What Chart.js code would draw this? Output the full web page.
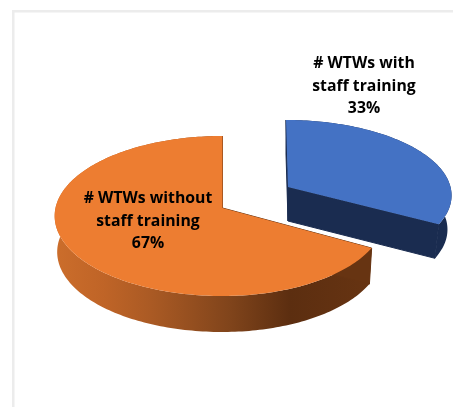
<!DOCTYPE html>
<html>
<head>
<meta charset="utf-8">
<style>html,body{margin:0;padding:0;background:#fff}canvas{display:block}</style>
<script src="https://cdn.jsdelivr.net/npm/chart.js@4"></script>
</head>
<body>
<canvas id="c" width="453" height="407"></canvas>
<script>
const categories = ["# WTWs with staff training", "# WTWs without staff training"];
const values = [33, 67];
const colors = ["#4472c4", "#ed7d31"];
const labelLines = [["# WTWs with", "staff training"], ["# WTWs without", "staff training"]];

// tilted-pie view of each slice (perspective, exploded offset, depth)
const view = [
  {ax: 288, ay: 187, A: 73.7, BL: 162.5, BR: 162.5, k: -0.1, s: 2.2, depth: 34, shrink: 0.975, label: [364, 68]},
  {ax: 222.5, ay: 208, A: 79.2, BL: 167, BR: 162, k: -0.1, s: 0, depth: 36, shrink: 0.985, label: [148, 203]}
];
const wallFill = [
  [[0, "#1a2c50"], [1, "#1a2c50"]],
  [[0, "#cb6d2b"], [0.15, "#bf6427"], [0.3, "#aa5a24"], [0.55, "#80441b"], [0.74, "#5c2e10"], [1, "#673412"]]
];

function project(v, theta, rim, lower) {
  const u = Math.sin(theta) * rim, w = -Math.cos(theta) * rim;
  const d = 1 + v.k * w, sh = lower ? v.shrink : 1, B = u > 0 ? v.BR : v.BL;
  return [v.ax + (B * sh * u + v.s * w) / d, v.ay + (lower ? v.depth : 0) + v.A * w / d];
}
function rimPath(ctx, v, a, b, lower, first) {
  const n = Math.max(2, Math.ceil(Math.abs(b - a) / 0.02));
  for (let i = 0; i <= n; i++) {
    const p = project(v, a + (b - a) * i / n, 1, lower);
    (first && i === 0) ? ctx.moveTo(p[0], p[1]) : ctx.lineTo(p[0], p[1]);
  }
}
Chart.ArcElement.prototype.draw = function (ctx) {
  const idx = this.$context.dataIndex, v = view[idx];
  const a = this.startAngle + Math.PI / 2, b = this.endAngle + Math.PI / 2;
  const stops = wallFill[idx];
  const g = ctx.createLinearGradient(57, 0, 372, 0);
  stops.forEach(s => g.addColorStop(s[0], s[1]));
  ctx.save();
  ctx.fillStyle = idx === 0 ? stops[0][1] : g;
  ctx.beginPath();
  rimPath(ctx, v, a, b, false, true);
  rimPath(ctx, v, b, a, true, false);
  ctx.closePath();
  ctx.fill();
  // cut faces
  ctx.strokeStyle = ctx.fillStyle = idx === 0 ? stops[0][1] : stops[stops.length - 1][1];
  ctx.lineWidth = 1;
  [a, b].forEach(t => {
    const top = project(v, t, 1, false), low = project(v, t, 1, true), c = project(v, t, 0, false), cl = project(v, t, 0, true);
    ctx.beginPath();
    ctx.moveTo(c[0], c[1]); ctx.lineTo(top[0], top[1]); ctx.lineTo(low[0], low[1]); ctx.lineTo(cl[0], cl[1]);
    ctx.closePath();
    ctx.fill(); ctx.stroke();
  });
  // top face
  const c = project(v, 0, 0, false);
  ctx.fillStyle = this.options.backgroundColor;
  ctx.beginPath();
  ctx.moveTo(c[0], c[1]);
  rimPath(ctx, v, a, b, false, false);
  ctx.closePath();
  ctx.fill();
  ctx.restore();
};

const frame = {
  id: "frame",
  beforeDraw(chart) {
    const ctx = chart.ctx;
    ctx.save();
    ctx.fillStyle = "#ececec";
    ctx.fillRect(12, 10, chart.width - 12, 2.5);
    ctx.fillRect(12, 10, 2.5, chart.height - 10);
    ctx.restore();
  }
};
const sliceLabels = {
  id: "sliceLabels",
  afterDraw(chart) {
    const ctx = chart.ctx;
    const total = values.reduce((x, y) => x + y, 0);
    ctx.save();
    ctx.fillStyle = "#000";
    ctx.font = "700 15.8px 'Open Sans'";
    ctx.textAlign = "center";
    ctx.textBaseline = "alphabetic";
    values.forEach((val, i) => {
      const [x, y] = view[i].label;
      const lines = labelLines[i].concat(Math.round(val / total * 100) + "%");
      lines.forEach((t, j) => ctx.fillText(t, x, y + j * 22.5));
    });
    ctx.restore();
  }
};

new Chart(document.getElementById("c"), {
  type: "pie",
  data: {labels: categories, datasets: [{data: values, backgroundColor: colors, borderWidth: 0, hoverOffset: 0}]},
  options: {
    responsive: false,
    animation: false,
    events: [],
    layout: {padding: 0},
    plugins: {legend: {display: false}, tooltip: {enabled: false}, title: {display: false}}
  },
  plugins: [frame, sliceLabels]
});
</script>
</body>
</html>
